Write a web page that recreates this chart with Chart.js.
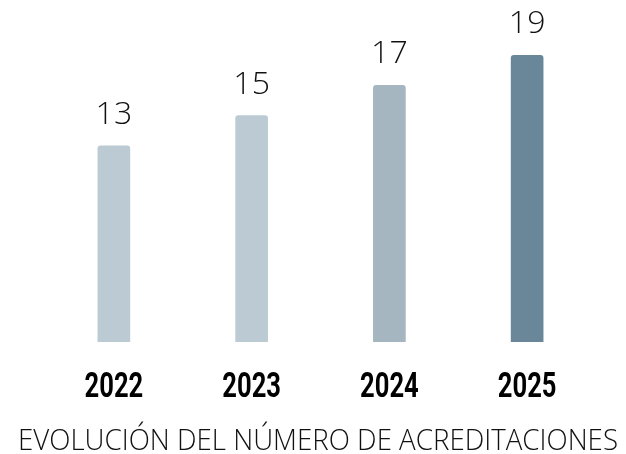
<!DOCTYPE html>
<html>
<head>
<meta charset="utf-8">
<script src="https://cdn.jsdelivr.net/npm/chart.js@4"></script>
<style>
  html, body { margin: 0; padding: 0; background: #fff; }
  #wrap { width: 626px; height: 454px; }
</style>
</head>
<body>
<div id="wrap"><canvas id="myChart" width="626" height="454"></canvas></div>
<script>
// datos
var years = ['2022', '2023', '2024', '2025'];
var acreditaciones = [13, 15, 17, 19];
var barColors = ['#bccbd3', '#bccbd3', '#a6b6c0', '#6a8799'];
var chartTitle = 'EVOLUCIÓN DEL NÚMERO DE ACREDITACIONES';

// escribe el valor encima de cada barra, los años debajo y el titulo al pie
var barTexts = {
  id: 'barTexts',
  afterDatasetsDraw(chart) {
    let ctx = chart.ctx;
    let meta = chart.getDatasetMeta(0);
    let xScale = chart.scales.x;
    let area = chart.chartArea;

    ctx.save();
    ctx.font = '300 32px "Open Sans"';
    ctx.fillStyle = '#111';
    ctx.textAlign = 'center';
    ctx.textBaseline = 'alphabetic';
    meta.data.forEach((bar, i) => {
      ctx.fillText(acreditaciones[i], bar.x, bar.y - 22);
    });
    ctx.restore();

    ctx.save();
    ctx.font = 'bold 35px Roboto';
    ctx.fillStyle = '#000';
    ctx.textAlign = 'center';
    ctx.textBaseline = 'alphabetic';
    years.forEach((yr, i) => {
      let px = xScale.getPixelForValue(i);
      ctx.save();
      ctx.translate(px, area.bottom + 55);
      ctx.scale(0.73, 1);
      ctx.fillText(yr, 0, 0);
      ctx.restore();
    });
    ctx.restore();

    // titulo ajustado al ancho del original (~600px)
    ctx.save();
    ctx.font = '300 30px "Open Sans"';
    ctx.fillStyle = '#111';
    ctx.textAlign = 'center';
    ctx.textBaseline = 'alphabetic';
    let titleW = ctx.measureText(chartTitle).width;
    ctx.translate(chart.width / 2 + 5, area.bottom + 108);
    ctx.scale(600 / titleW, 1);
    ctx.fillText(chartTitle, 0, 0);
    ctx.restore();
  }
};

var ctx = document.getElementById('myChart');
var myChart = new Chart(ctx, {
  type: 'bar',
  data: {
    labels: years,
    datasets: [{
      data: acreditaciones,
      backgroundColor: barColors,
      borderRadius: 3,
      borderSkipped: 'bottom',
      barThickness: 32
    }]
  },
  options: {
    responsive: false,
    animation: false,
    layout: { padding: { left: 45, right: 30, top: 10, bottom: 112 } },
    plugins: {
      legend: { display: false },
      tooltip: { enabled: false }
    },
    scales: {
      x: {
        display: false
      },
      y: {
        display: false,
        min: 0,
        max: 22
      }
    }
  },
  plugins: [barTexts]
});
</script>
</body>
</html>
